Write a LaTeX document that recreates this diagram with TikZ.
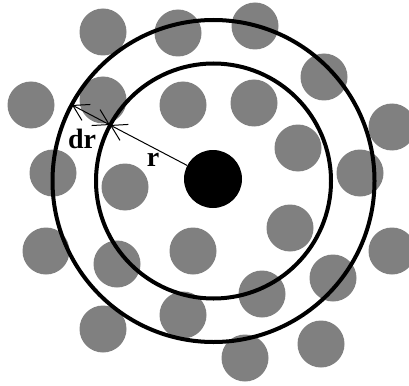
\documentclass[tikz,border=0pt]{standalone}
\usepackage{fontspec}
\setmainfont{Liberation Serif}
\usetikzlibrary{arrows.meta}

\tikzset{
  particle/.style={fill=gray},
  shell/.style={line width=4pt},
  lbl/.style={font=\fontsize{28}{32}\selectfont\bfseries, inner sep=0pt}
}

\begin{document}
\begin{tikzpicture}[x=1pt, y=-1pt, >={Straight Barb[length=15pt,width=18pt]}]
    % Khung
    \useasboundingbox (0,0) rectangle (409,385);

    % Các hạt xung quanh
    \foreach \x/\y in {103/32, 178/33, 255/26, 324/77, 31/105, 103/100,
        183/105, 254/103, 392/127, 298/148, 53/173, 125/187, 360/173,
        290/228, 46/251, 193/251, 392/251, 117/264, 333/278, 262/294,
        183/315, 103/329, 321/344, 245/358} {
        \fill[particle] (\x,\y) circle (23.5pt);
    }

    % Hai vòng tròn
    \coordinate (o) at (213.5,181);
    \draw[shell] (o) circle (117.5pt);
    \draw[shell] (o) circle (161pt);

    % Hạt trung tâm
    \node[circle, fill=black, minimum size=58pt, inner sep=0pt] (core) at (213,179) {};

    % Bán kính r và dr
    \coordinate (rin) at (110,125);
    \coordinate (rout) at (72,105);
    \draw[->, line width=1pt] (core) -- (rin);
    \draw[<->, line width=1pt] (rin) -- (rout);
    \node[lbl] (drlabel) at (82,139) {dr};
    \node[lbl] (rlabel) at (153,160) {r};
\end{tikzpicture}
\end{document}
